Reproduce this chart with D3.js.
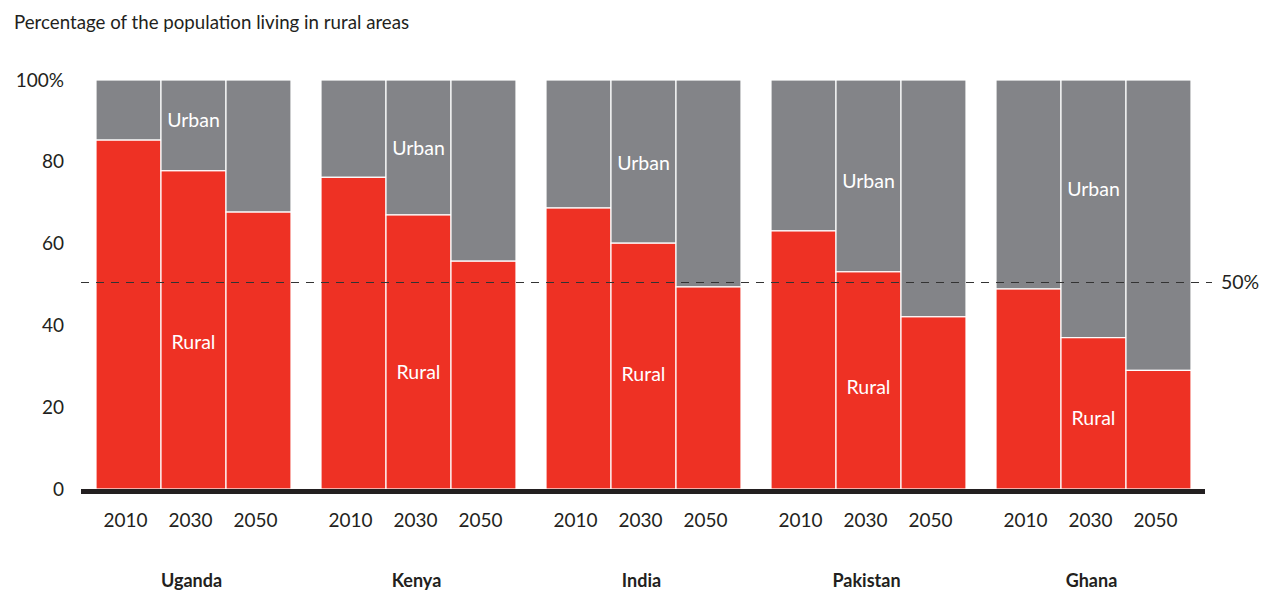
<!DOCTYPE html>
<html>
<head>
<meta charset="utf-8">
<script src="https://cdn.jsdelivr.net/npm/d3@7/dist/d3.min.js"></script>
<style>
  html, body { margin: 0; padding: 0; background: #fff; }
  svg { display: block; font-family: Lato, "Noto Sans", sans-serif; }
</style>
</head>
<body>
<svg id="chart" width="1263" height="592"></svg>
<script>
// ---- data ----
const countries = ["Uganda", "Kenya", "India", "Pakistan", "Ghana"];
const years = ["2010", "2030", "2050"];
const rural = {
  Uganda:   [85.3, 77.8, 67.7],
  Kenya:    [76.2, 67.0, 55.7],
  India:    [68.7, 60.1, 49.4],
  Pakistan: [63.1, 53.1, 42.1],
  Ghana:    [48.9, 37.0, 29.0]
};
const yTicks = [0, 20, 40, 60, 80, 100];
const referenceValue = 50;
// label anchor values (in % units) for the 2030 bars
const urbanLabelAt = [90.2, 83.4, 79.7, 75.3, 73.3];
const ruralLabelAt = [35.9, 28.6, 28.1, 24.9, 17.4];
const titleText = "Percentage of the population living in rural areas";

// ---- layout ----
const RED = "#EE3124", GRAY = "#838488", INK = "#231F20";
const svg = d3.select("#chart");

const y = d3.scaleLinear().domain([0, 100]).range([489, 80]);
const x0 = d3.scaleBand().domain(countries).range([96, 1191]).paddingInner(30 / 225).paddingOuter(0);
const x1 = d3.scaleBand().domain(years).range([0, x0.bandwidth()]).padding(0);

svg.append("text")
  .attr("x", 14).attr("y", 29)
  .attr("font-size", 18.7).attr("fill", INK).attr("font-weight", 400)
  .text(titleText);

// bars
const groups = svg.append("g").selectAll("g")
  .data(countries).join("g")
  .attr("transform", d => `translate(${x0(d)},0)`);

const cells = groups.selectAll("g.cell")
  .data(c => years.map((yr, i) => ({ country: c, year: yr, value: rural[c][i] })))
  .join("g").attr("class", "cell");

cells.append("rect")
  .attr("x", d => x1(d.year))
  .attr("y", y(100))
  .attr("width", x1.bandwidth())
  .attr("height", d => y(d.value) - y(100))
  .attr("fill", GRAY)
  .attr("stroke", "#fff").attr("stroke-width", 1.2);

cells.append("rect")
  .attr("x", d => x1(d.year))
  .attr("y", d => y(d.value))
  .attr("width", x1.bandwidth())
  .attr("height", d => y(0) - y(d.value))
  .attr("fill", RED)
  .attr("stroke", "#fff").attr("stroke-width", 1.2);

// Urban / Rural labels on 2030 bars
groups.append("text")
  .attr("x", x1("2030") + x1.bandwidth() / 2)
  .attr("y", (d, i) => y(urbanLabelAt[i]))
  .attr("dy", "0.35em")
  .attr("text-anchor", "middle")
  .attr("font-size", 19.5).attr("font-weight", 400)
  .attr("fill", "#fff")
  .text("Urban");

groups.append("text")
  .attr("x", x1("2030") + x1.bandwidth() / 2)
  .attr("y", (d, i) => y(ruralLabelAt[i]))
  .attr("dy", "0.35em")
  .attr("text-anchor", "middle")
  .attr("font-size", 19.5).attr("font-weight", 400)
  .attr("fill", "#fff")
  .text("Rural");

// year tick labels
groups.selectAll("text.year")
  .data(years).join("text").attr("class", "year")
  .attr("x", d => x1(d) + x1.bandwidth() / 2)
  .attr("dx", -3)
  .attr("y", 520)
  .attr("dy", "0.35em")
  .attr("text-anchor", "middle")
  .attr("font-size", 19).attr("font-weight", 400)
  .attr("fill", INK)
  .text(d => d);

// country labels
groups.append("text")
  .attr("x", x0.bandwidth() / 2)
  .attr("dx", -2)
  .attr("y", 581)
  .attr("dy", "0.35em")
  .attr("text-anchor", "middle")
  .attr("font-size", 18).attr("font-weight", 700)
  .attr("fill", INK)
  .text(d => d);

// y axis
const yAxis = d3.axisLeft(y).tickValues(yTicks).tickSize(0).tickPadding(0)
  .tickFormat(d => d === 100 ? "100%" : d);
const ya = svg.append("g").attr("transform", "translate(64,0)").call(yAxis);
ya.select(".domain").remove();
ya.selectAll("text")
  .attr("font-size", 19).attr("font-weight", 400)
  .attr("fill", INK).attr("font-family", "Lato, 'Noto Sans', sans-serif");

// baseline
svg.append("line")
  .attr("x1", 81).attr("x2", 1205)
  .attr("y1", y(0) + 2.5).attr("y2", y(0) + 2.5)
  .attr("stroke", INK).attr("stroke-width", 5);

// 50% reference dashed line
svg.append("line")
  .attr("x1", 81).attr("x2", 1212)
  .attr("y1", y(referenceValue) - 2).attr("y2", y(referenceValue) - 2)
  .attr("stroke", "#333").attr("stroke-width", 1.2)
  .attr("stroke-dasharray", "8,7");

svg.append("text")
  .attr("x", 1221).attr("y", y(referenceValue) - 2)
  .attr("dy", "0.35em")
  .attr("font-size", 19.5).attr("font-weight", 400)
  .attr("fill", INK)
  .text(referenceValue + "%");
</script>
</body>
</html>
